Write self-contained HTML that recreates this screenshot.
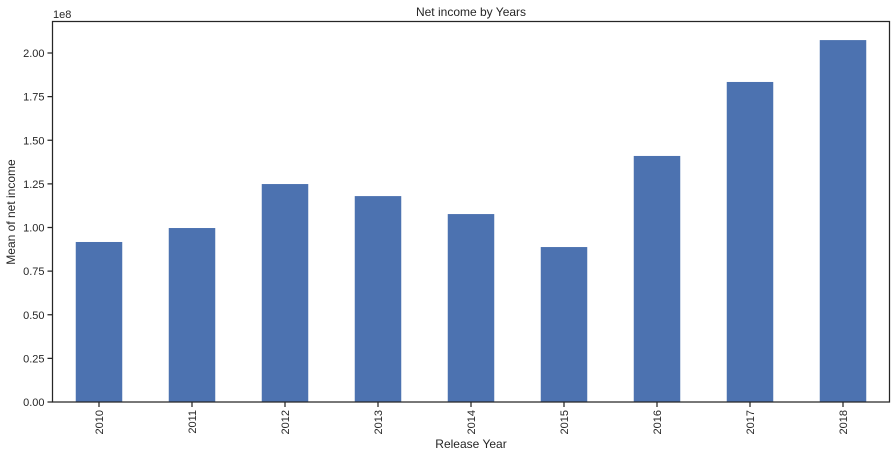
<!DOCTYPE html>
<html><head><meta charset="utf-8"><style>
body{margin:0;background:#fff;}
svg text{font-family:"Liberation Sans",sans-serif;fill:#262626;}
</style></head><body>
<svg id="chart" width="896" height="457" xmlns="http://www.w3.org/2000/svg">
<rect width="896" height="457" fill="#fff"/>
</svg>
<script>
const categories=["2010","2011","2012","2013","2014","2015","2016","2017","2018"];
const values=[0.917,0.997,1.249,1.18,1.077,0.888,1.41,1.834,2.074];
const yTicks=[0,0.25,0.5,0.75,1.0,1.25,1.5,1.75,2.0];
const yTickLabels=["0.00","0.25","0.50","0.75","1.00","1.25","1.50","1.75","2.00"];
const L=52.5,R=889.5,T=21.5,B=402;
const NS="http://www.w3.org/2000/svg";
const svg=document.getElementById('chart');
const step=(R-L)/categories.length;
const x=i=>L+step*(i+0.5);
const y=v=>B-v*174.5;
function mk(t,a,p){const e=document.createElementNS(NS,t);for(const k in a)e.setAttribute(k,a[k]);(p||svg).appendChild(e);return e;}
values.forEach((v,i)=>{
 const r=mk('rect',{x:x(i)-step/4,y:y(v),width:step/2,height:B-y(v),fill:'#4c72b0'});
 
 
});
mk('rect',{x:L,y:T,width:R-L,height:B-T,fill:'none',stroke:'#262626','stroke-width':1.25});
yTicks.forEach((v,i)=>{
 mk('line',{x1:L-5,x2:L,y1:y(v),y2:y(v),stroke:'#262626','stroke-width':1.25});
 const t=mk('text',{x:L-8,y:y(v)+4,'text-anchor':'end','font-size':11});
 t.textContent=yTickLabels[i];
 
 
});
categories.forEach((c,i)=>{
 mk('line',{x1:x(i),x2:x(i),y1:B,y2:B+5,stroke:'#262626','stroke-width':1.25});
 const t=mk('text',{x:0,y:0,'text-anchor':'end','font-size':11,transform:`translate(${x(i)+4},${B+8}) rotate(-90)`});
 t.textContent=c;
 
 
});
</script>
<script>
(function(){
const NS="http://www.w3.org/2000/svg",svg=document.getElementById('chart');
function tx(s,a,n){const e=document.createElementNS(NS,'text');for(const k in a)e.setAttribute(k,a[k]);e.textContent=s;svg.appendChild(e);

}
tx('Net income by Years',{x:471,y:16,'text-anchor':'middle','font-size':12},'chart-title');
tx('1e8',{x:53,y:18,'font-size':11},'y-axis-offset');
tx('Release Year',{x:471,y:448,'text-anchor':'middle','font-size':12},'x-axis-title');
tx('Mean of net income',{x:0,y:0,'text-anchor':'middle','font-size':12,transform:'translate(15,212) rotate(-90)'},'y-axis-title');
})();
</script>
</body></html>
